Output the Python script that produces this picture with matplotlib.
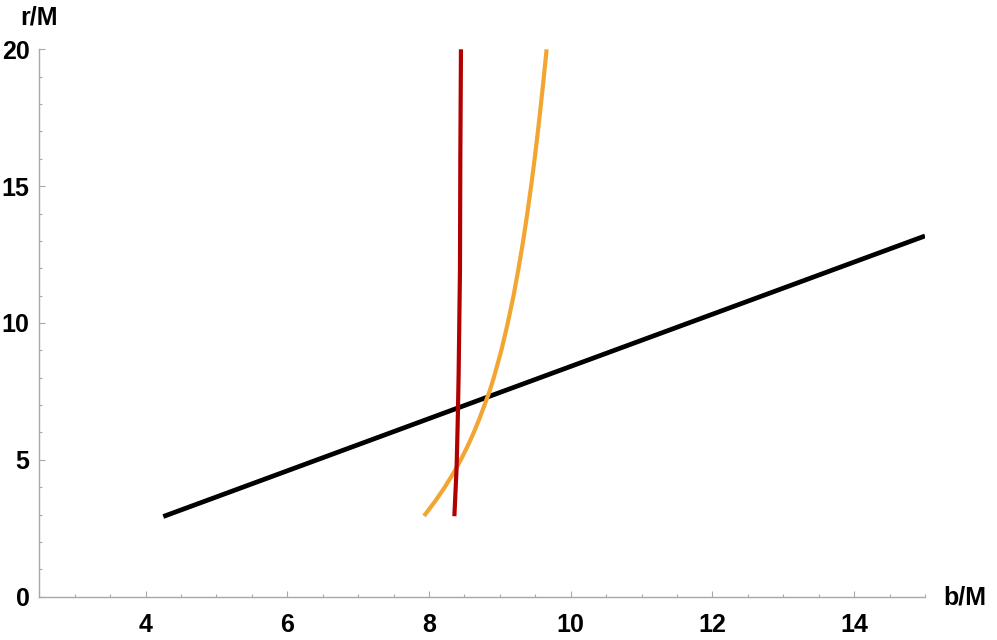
import matplotlib
matplotlib.use("Agg")
import matplotlib.pyplot as plt
from matplotlib.ticker import MultipleLocator

# --- data (b/M, r/M) ---
black_b = [4.25, 8.82, 15.0]
black_r = [2.93, 7.29, 13.18]

red_b = [8.358, 8.390, 8.408, 8.418, 8.437, 8.442, 8.451]
red_r = [2.94, 4.75, 6.72, 8.11, 11.95, 16.04, 20.0]

orange_r = [2.95, 3.5, 4.0, 4.5, 5.0, 5.5, 6.0, 6.5, 7.0, 7.5, 8.0,
            9.0, 10.0, 11.0, 12.0, 13.0, 14.0, 15.0, 16.0, 17.0, 18.0,
            19.0, 20.0]
orange_b = [7.93, 8.09, 8.222, 8.341, 8.449, 8.545, 8.632, 8.711, 8.783,
            8.854, 8.914, 9.021, 9.112, 9.193, 9.264, 9.329, 9.387,
            9.441, 9.491, 9.537, 9.580, 9.621, 9.660]

x_major = [4, 6, 8, 10, 12, 14]
y_major = [0, 5, 10, 15, 20]

plt.rcParams['font.family'] = ['Liberation Sans', 'DejaVu Sans']

fig = plt.figure(figsize=(9.97, 6.4), dpi=100)
ax = fig.add_axes([39.3 / 997, 1 - 596.7 / 640,
                   (925 - 39.3) / 997, (596.7 - 49.3) / 640])

ax.plot(black_b, black_r, color='black', lw=3.4, solid_capstyle='butt')
ax.plot(orange_b, orange_r, color='#F2A631', lw=3.0, solid_capstyle='butt')
ax.plot(red_b, red_r, color='#B00000', lw=3.0, solid_capstyle='butt')

ax.set_xlim(2.5, 15)
ax.set_ylim(0, 20)

for s in ['top', 'right']:
    ax.spines[s].set_visible(False)
for s in ['left', 'bottom']:
    ax.spines[s].set_color('#A8A8A8')
    ax.spines[s].set_linewidth(1.0)

ax.set_xticks(x_major)
ax.set_yticks(y_major)
ax.xaxis.set_minor_locator(MultipleLocator(0.5))
ax.yaxis.set_minor_locator(MultipleLocator(1))
ax.tick_params(which='both', direction='in', color='#A8A8A8', width=0.8)
ax.tick_params(which='major', length=4)
ax.tick_params(which='minor', length=2.2)
ax.tick_params(axis='x', which='major', pad=11.5)
ax.tick_params(axis='y', which='major', pad=7)
for lab in ax.get_xticklabels() + ax.get_yticklabels():
    lab.set_fontsize(18)
    lab.set_fontweight('bold')

fig.text(943 / 997, 1 - 597.5 / 640, 'b/M', ha='left', va='center',
         fontsize=18, fontweight='bold')
fig.text(38.5 / 997, 1 - 17.5 / 640, 'r/M', ha='center', va='center',
         fontsize=18, fontweight='bold')

fig.savefig('out.png', dpi=100)
